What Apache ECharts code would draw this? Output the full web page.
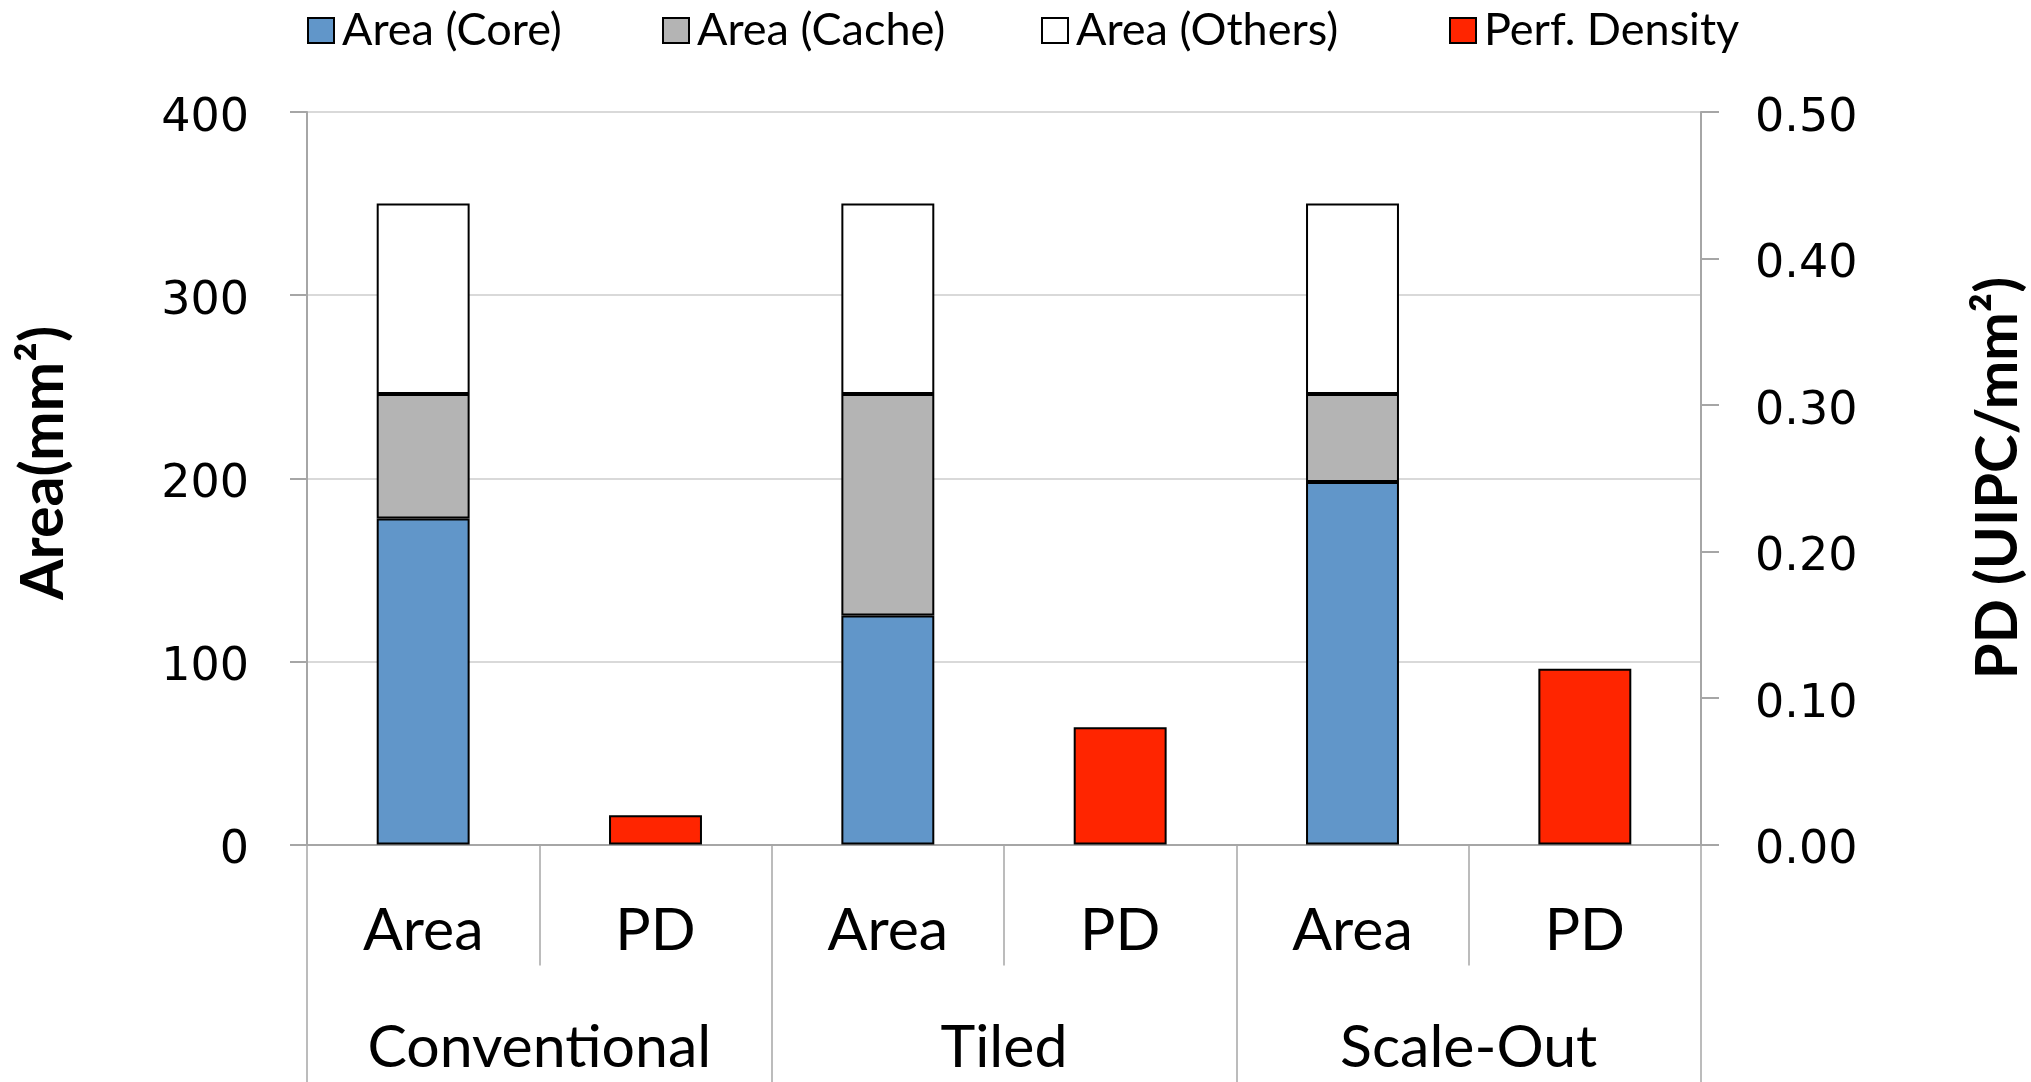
<!DOCTYPE html>
<html>
<head>
<meta charset="utf-8">
<script src="https://cdn.jsdelivr.net/npm/echarts@6/dist/echarts.min.js"></script>
<style>
  html, body { margin: 0; padding: 0; background: #ffffff; }
  #chart { width: 2031px; height: 1082px; }
</style>
</head>
<body>
<div id="chart"></div>
<script>
// Design groups and the two bars shown inside each group
const groups = ['Conventional', 'Tiled', 'Scale-Out'];
const barKinds = ['Area', 'PD'];

// Die area breakdown per design (mm²)
const areaCore = [178, 125, 198];
const areaCache = [68, 121, 48];
const areaOthers = [104, 104, 104];

// Performance density per design (UIPC/mm²)
const perfDensity = [0.02, 0.08, 0.12];

// Axis scales
const areaAxis = { min: 0, max: 400, interval: 100 };
const pdAxis = { min: 0, max: 0.5, interval: 0.1 };

// Leaf categories: Area, PD for each group
const leafCategories = [];
groups.forEach(() => barKinds.forEach(k => leafCategories.push(k)));

// Place a per-group value in the slot for its bar kind, blanks elsewhere
function spread(values, kindIndex) {
  const out = [];
  values.forEach(v => {
    barKinds.forEach((k, i) => out.push(i === kindIndex ? v : '-'));
  });
  return out;
}

const FONT = 'Lato';
const TICK_FONT = 'DejaVu Sans';
const AXIS_GRAY = '#a6a6a6';
const GRID_GRAY = '#d9d9d9';

const barBorder = { borderColor: '#000000', borderWidth: 2 };

const chart = echarts.init(document.getElementById('chart'), null, { renderer: 'canvas' });

function legendAt(name, left) {
  return {
    data: [name],
    left: left,
    top: 3,
    itemWidth: 26,
    itemHeight: 25,
    icon: 'rect',
    selectedMode: false,
    textStyle: { fontFamily: FONT, fontSize: 45, color: '#000000', padding: [0, 0, 0, 3] }
  };
}

// Tick numbers sit a little below their tick marks: a short line box hung
// from the tick puts the glyph centre a few pixels lower
const tickLabelStyle = {
  fontFamily: TICK_FONT, fontSize: 46, color: '#000000',
  verticalAlign: 'top', lineHeight: 14
};

const option = {
  backgroundColor: '#ffffff',
  animation: false,
  legend: [
    legendAt('Area (Core)', 302),
    legendAt('Area (Cache)', 657),
    legendAt('Area (Others)', 1036),
    legendAt('Perf. Density', 1444)
  ],
  grid: { left: 307, right: 330, top: 112, bottom: 237.5, containLabel: false },
  xAxis: [
    {
      type: 'category',
      data: leafCategories,
      position: 'bottom',
      axisLine: { show: true, lineStyle: { color: AXIS_GRAY, width: 2 } },
      axisTick: { show: true, interval: 0, length: 121, lineStyle: { color: AXIS_GRAY, width: 1.5 } },
      axisLabel: { interval: 0, margin: 57, fontFamily: FONT, fontSize: 59, color: '#000000' },
      splitLine: { show: false }
    },
    {
      type: 'category',
      data: groups,
      position: 'bottom',
      axisLine: { show: false },
      axisTick: { show: true, interval: 0, length: 238, lineStyle: { color: AXIS_GRAY, width: 1.5 } },
      axisLabel: { interval: 0, margin: 174, fontFamily: FONT, fontSize: 59, color: '#000000' },
      splitLine: { show: false }
    }
  ],
  yAxis: [
    {
      type: 'value',
      position: 'left',
      min: areaAxis.min, max: areaAxis.max, interval: areaAxis.interval,
      axisLine: { show: true, lineStyle: { color: AXIS_GRAY, width: 2 } },
      axisTick: { show: true, length: 17, lineStyle: { color: AXIS_GRAY, width: 2 } },
      axisLabel: Object.assign({ margin: 58 }, tickLabelStyle),
      splitLine: { show: true, lineStyle: { color: GRID_GRAY, width: 2 } }
    },
    {
      type: 'value',
      position: 'right',
      min: pdAxis.min, max: pdAxis.max, interval: pdAxis.interval,
      axisLine: { show: true, lineStyle: { color: AXIS_GRAY, width: 2 } },
      axisTick: { show: true, length: 18, lineStyle: { color: AXIS_GRAY, width: 2 } },
      axisLabel: Object.assign({ margin: 54, formatter: v => v.toFixed(2) }, tickLabelStyle),
      splitLine: { show: false }
    }
  ],
  series: [
    {
      name: 'Area (Core)', type: 'bar', stack: 'area', xAxisIndex: 0, yAxisIndex: 0,
      barWidth: '40%', barGap: '-100%',
      itemStyle: Object.assign({ color: '#6196c9' }, barBorder),
      data: spread(areaCore, 0)
    },
    {
      name: 'Area (Cache)', type: 'bar', stack: 'area', xAxisIndex: 0, yAxisIndex: 0,
      barWidth: '40%', barGap: '-100%',
      itemStyle: Object.assign({ color: '#b4b4b4' }, barBorder),
      data: spread(areaCache, 0)
    },
    {
      name: 'Area (Others)', type: 'bar', stack: 'area', xAxisIndex: 0, yAxisIndex: 0,
      barWidth: '40%', barGap: '-100%',
      itemStyle: Object.assign({ color: '#ffffff' }, barBorder),
      data: spread(areaOthers, 0)
    },
    {
      name: 'Perf. Density', type: 'bar', xAxisIndex: 0, yAxisIndex: 1,
      barWidth: '40%', barGap: '-100%',
      itemStyle: Object.assign({ color: '#ff2500' }, barBorder),
      data: spread(perfDensity, 1)
    }
  ],
  graphic: [
    {
      type: 'text', x: 44, y: 463, rotation: Math.PI / 2,
      style: {
        text: 'Area(mm²)', fontFamily: FONT, fontWeight: 'bold', fontSize: 59,
        fill: '#000000', align: 'center', verticalAlign: 'middle'
      }
    },
    {
      type: 'text', x: 1998, y: 478, rotation: Math.PI / 2,
      style: {
        text: 'PD (UIPC/mm²)', fontFamily: FONT, fontWeight: 'bold', fontSize: 58,
        fill: '#000000', align: 'center', verticalAlign: 'middle'
      }
    }
  ]
};

chart.setOption(option);
</script>
</body>
</html>
